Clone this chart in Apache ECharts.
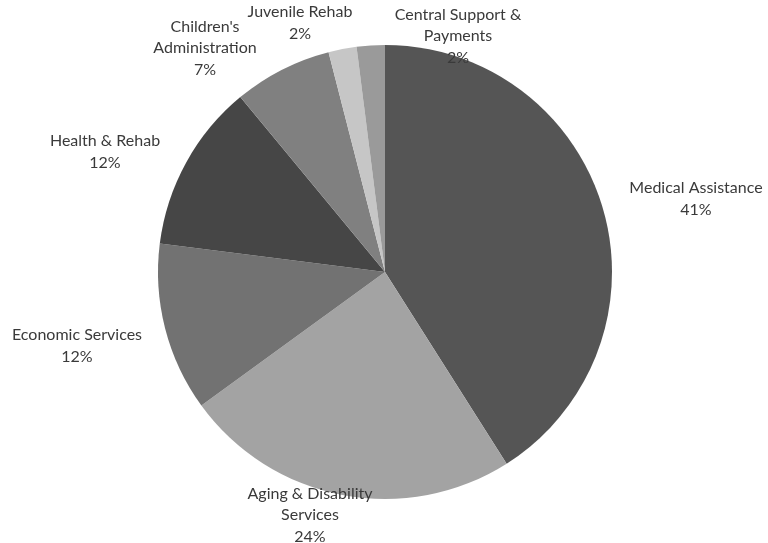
<!DOCTYPE html>
<html>
<head>
<meta charset="utf-8">
<script src="https://cdn.jsdelivr.net/npm/echarts@6/dist/echarts.min.js"></script>
<style>
  html, body { margin: 0; padding: 0; background: #fff; }
  #chart { width: 768px; height: 543px; }
</style>
</head>
<body>
<div id="chart"></div>
<script>
// slices, clockwise from 12 o'clock
const categories = [
  'Medical Assistance',
  'Aging & Disability\nServices',
  'Economic Services',
  'Health & Rehab',
  "Children's\nAdministration",
  'Juvenile Rehab',
  'Central Support &\nPayments'
];
const shares = [41, 24, 12, 12, 7, 2, 2];
const sliceColors = ['#555555', '#a3a3a3', '#727272', '#464646', '#808080', '#c6c6c6', '#9a9a9a'];

// where each label block is centred (like the Excel best-fit placement)
const labelPos = [[696, 199], [310, 515], [77, 346], [105, 152], [205, 48], [300, 23], [458, 36]];

const chart = echarts.init(document.getElementById('chart'));

chart.setOption({
  animation: false,
  series: [
    {
      type: 'pie',
      center: [385, 272],
      radius: 227,
      startAngle: 90,
      clockwise: true,
      percentPrecision: 0,
      avoidLabelOverlap: false,
      data: categories.map((name, i) => ({
        name: name,
        value: shares[i],
        itemStyle: { color: sliceColors[i] }
      })),
      label: {
        show: true,
        position: 'outside',
        formatter: '{b}\n{d}%',
        fontFamily: 'Lato',
        fontSize: 16,
        lineHeight: 21.5,
        color: '#3a3a3a',
        align: 'center'
      },
      labelLine: { show: false },
      labelLayout: function (params) {
        const p = labelPos[params.dataIndex];
        return { x: p[0], y: p[1], align: 'center', verticalAlign: 'middle' };
      }
    }
  ]
});
</script>
</body>
</html>
